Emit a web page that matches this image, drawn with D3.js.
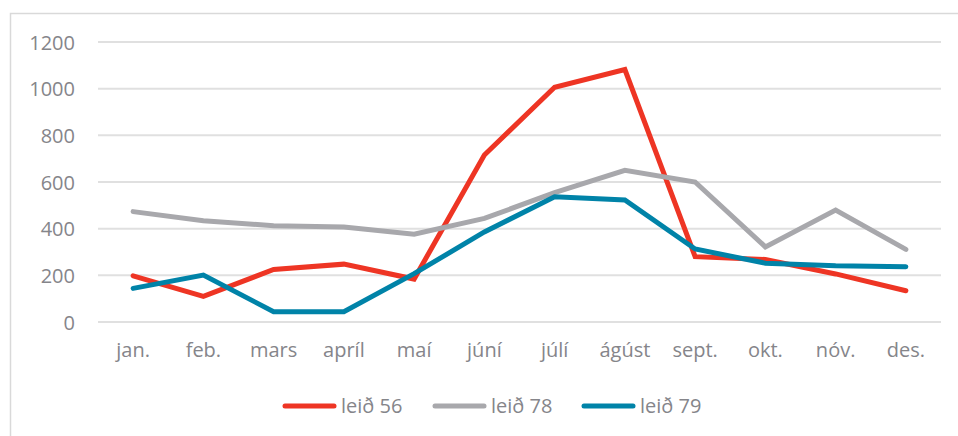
<!DOCTYPE html>
<html>
<head>
<meta charset="utf-8">
<script src="https://cdn.jsdelivr.net/npm/d3@7"></script>
<style>
  html, body { margin: 0; padding: 0; background: #fff; }
  svg { display: block; }
  text { font-family: "Open Sans", "Noto Sans", sans-serif; fill: #85858a; }
</style>
</head>
<body>
<svg id="chart" width="958" height="436"></svg>
<script>
// Monthly passenger counts per route
const months = ["jan.", "feb.", "mars", "apríl", "maí", "júní", "júlí", "ágúst", "sept.", "okt.", "nóv.", "des."];
const leid56 = [198, 110, 225, 248, 184, 716, 1006, 1082, 280, 268, 206, 134];
const leid78 = [473, 434, 413, 407, 376, 444, 554, 650, 600, 322, 480, 311];
const leid79 = [144, 201, 44, 44, 207, 386, 537, 523, 313, 252, 241, 237];
const yTicks = [0, 200, 400, 600, 800, 1000, 1200];

const seriesNames = ["leið 56", "leið 78", "leið 79"];
const seriesValues = [leid56, leid78, leid79];
const colors = ["#ee3524", "#a8a8ac", "#0083a8"];

const svg = d3.select("#chart");
const W = 958, H = 436;
const m = { left: 98, right: 17, top: 42, bottom: 114 };
const fontSize = 20;

// outer chart frame (runs past the right and bottom edge)
svg.append("rect")
  .attr("x", 10.5).attr("y", 13.5)
  .attr("width", W + 20).attr("height", H + 20)
  .attr("fill", "none").attr("stroke", "#d9d9d9").attr("stroke-width", 1.5);

const x = d3.scaleBand().domain(months).range([m.left, W - m.right]);
const y = d3.scaleLinear().domain([0, 1200]).range([H - m.bottom, m.top]);

// horizontal gridlines
svg.append("g")
  .selectAll("line").data(yTicks).join("line")
  .attr("x1", m.left).attr("x2", W - m.right)
  .attr("y1", d => y(d)).attr("y2", d => y(d))
  .attr("stroke", "#e0e0e0").attr("stroke-width", 2);

// y axis labels
const yAxis = d3.axisLeft(y).tickValues(yTicks).tickFormat(d3.format("d")).tickSize(0).tickPadding(0);
const gy = svg.append("g").attr("transform", `translate(${m.left - 23},0)`).call(yAxis);
gy.select(".domain").remove();
gy.selectAll("text").attr("font-size", fontSize).attr("fill", "#85858a")
  .attr("font-family", "'Open Sans', sans-serif").attr("dy", "0.35em");

// x axis labels
const xAxis = d3.axisBottom(x).tickSize(0).tickPadding(0);
const gx = svg.append("g").attr("transform", `translate(0,${y(0) + 21})`).call(xAxis);
gx.select(".domain").remove();
gx.selectAll("text").attr("font-size", fontSize).attr("fill", "#85858a")
  .attr("font-family", "'Open Sans', sans-serif").attr("dy", "0.71em");

// series lines
const line = d3.line()
  .x((d, i) => x(months[i]) + x.bandwidth() / 2)
  .y(d => y(d));

svg.append("g")
  .selectAll("path").data(seriesValues).join("path")
  .attr("d", d => line(d))
  .attr("fill", "none")
  .attr("stroke", (d, i) => colors[i])
  .attr("stroke-width", 5)
  .attr("stroke-linejoin", "miter")
  .attr("stroke-linecap", "round");

// legend
const legendY = 406;
const legendX = [285, 435, 584];
const leg = svg.append("g").selectAll("g").data(seriesNames).join("g")
  .attr("transform", (d, i) => `translate(${legendX[i]},${legendY})`);
leg.append("line")
  .attr("x1", 0).attr("x2", 49).attr("y1", 0).attr("y2", 0)
  .attr("stroke", (d, i) => colors[i]).attr("stroke-width", 5)
  .attr("stroke-linecap", "round");
leg.append("text")
  .attr("x", 56).attr("y", 0).attr("dy", "0.35em")
  .attr("font-size", fontSize)
  .text(d => d);
</script>
</body>
</html>
